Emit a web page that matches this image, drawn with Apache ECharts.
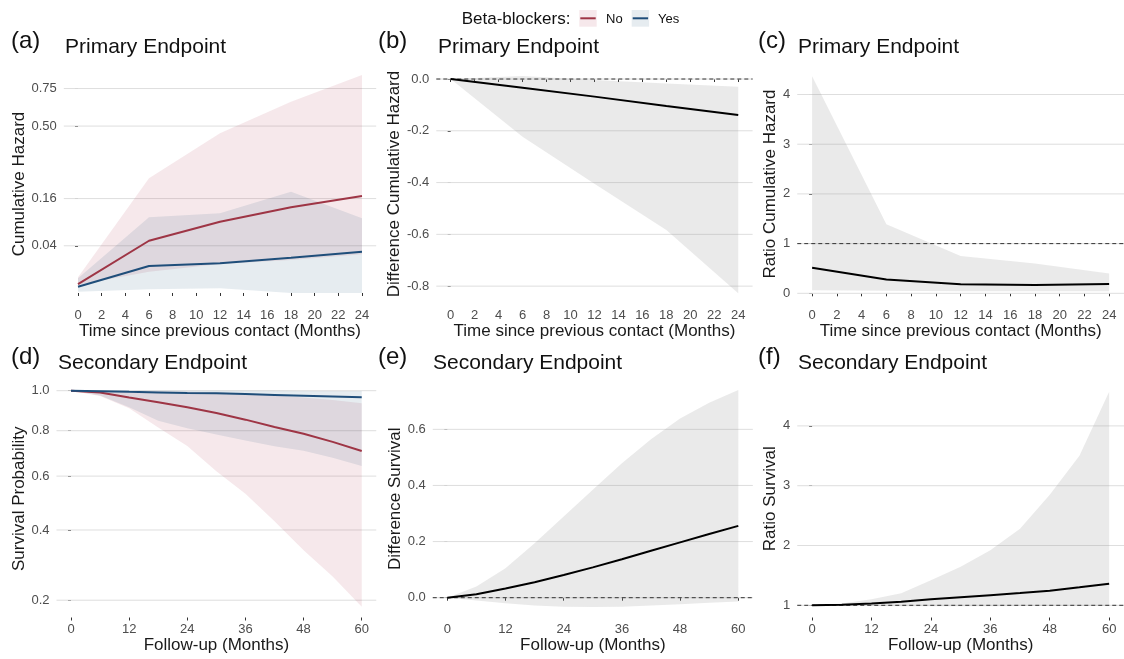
<!DOCTYPE html>
<html><head><meta charset="utf-8">
<script src="https://cdn.jsdelivr.net/npm/echarts@6/dist/echarts.min.js"></script>
<style>html,body{margin:0;padding:0;background:#fff}#c{width:1124px;height:659px}</style>
</head><body><div id="c"></div>
<script>
// ---------- DATA ----------
const tPrimary = [0, 6, 12, 18, 24];
const aNoEst = [0.0014, 0.049, 0.091, 0.132, 0.169];
const aNoLo  = [0.0012, 0.0081, 0.015, 0.0196, 0.027];
const aNoHi  = [0.0044, 0.236, 0.458, 0.657, 0.853];
const aYesEst = [0.0007, 0.013, 0.0158, 0.0224, 0.0306];
const aYesLo  = [0.00003, 0.00025, 0.0004, 0, 0];
const aYesHi  = [0.0039, 0.103, 0.114, 0.184, 0.100];

const bEst = [0, -0.034, -0.068, -0.104, -0.139];
const bLo  = [0, -0.223, -0.405, -0.583, -0.827];
const bHi  = [0, 0.012, -0.004, -0.017, -0.03];

const cEst = [0.515, 0.28, 0.18, 0.167, 0.187];
const cLo  = [0.06, 0.05, 0.04, 0.04, 0.04];
const cHi  = [4.37, 1.39, 0.75, 0.60, 0.40];

const tSecondary = [0, 6, 12, 18, 24, 30, 36, 42, 48, 54, 60];
const dNoEst  = [1, 0.99, 0.964, 0.94, 0.914, 0.886, 0.853, 0.818, 0.786, 0.748, 0.707];
const dNoLo   = [1, 0.972, 0.91, 0.815, 0.73, 0.62, 0.53, 0.43, 0.335, 0.26, 0.185];
const dNoHi   = [1, 1, 0.999, 0.997, 0.995, 0.99, 0.985, 0.976, 0.965, 0.952, 0.935];
const dYesEst = [1, 0.9975, 0.994, 0.991, 0.988, 0.986, 0.982, 0.978, 0.974, 0.970, 0.9655];
const dYesLo  = [1, 0.975, 0.915, 0.848, 0.812, 0.782, 0.754, 0.728, 0.708, 0.677, 0.642];
const dYesHi  = [1, 1, 1, 1, 1, 1, 1, 1, 0.999, 0.999, 0.998];

const eEst = [0, 0.012, 0.033, 0.055, 0.081, 0.108, 0.137, 0.167, 0.197, 0.227, 0.256];
const eLo  = [0, -0.01, -0.02, -0.028, -0.032, -0.033, -0.032, -0.028, -0.023, -0.018, -0.014];
const eHi  = [0, 0.04, 0.105, 0.194, 0.289, 0.385, 0.479, 0.565, 0.639, 0.695, 0.74];

const fEst = [1, 1.01, 1.03, 1.06, 1.10, 1.135, 1.17, 1.205, 1.245, 1.30, 1.36];
const fLo  = [1, 0.995, 0.99, 0.985, 0.985, 0.985, 0.985, 0.99, 0.99, 0.99, 0.99];
const fHi  = [1, 1.03, 1.10, 1.20, 1.42, 1.645, 1.92, 2.28, 2.85, 3.50, 4.57];

const primaryXTicks = [0, 2, 4, 6, 8, 10, 12, 14, 16, 18, 20, 22, 24];
const secondaryXTicks = [0, 12, 24, 36, 48, 60];
const aYTicks = [0.04, 0.16, 0.50, 0.75];
const aYLabels = ['0.04', '0.16', '0.50', '0.75'];
const bYTicks = [-0.8, -0.6, -0.4, -0.2, 0.0];
const bYLabels = ['-0.8', '-0.6', '-0.4', '-0.2', '0.0'];
const cYTicks = [0, 1, 2, 3, 4];
const cYLabels = ['0', '1', '2', '3', '4'];
const dYTicks = [0.2, 0.4, 0.6, 0.8, 1.0];
const dYLabels = ['0.2', '0.4', '0.6', '0.8', '1.0'];
const eYTicks = [0.0, 0.2, 0.4, 0.6];
const eYLabels = ['0.0', '0.2', '0.4', '0.6'];
const fYTicks = [1, 2, 3, 4];
const fYLabels = ['1', '2', '3', '4'];

const tags = ['(a)', '(b)', '(c)', '(d)', '(e)', '(f)'];
const titles = ['Primary Endpoint', 'Primary Endpoint', 'Primary Endpoint',
                'Secondary Endpoint', 'Secondary Endpoint', 'Secondary Endpoint'];
const yNames = ['Cumulative Hazard', 'Difference Cumulative Hazard', 'Ratio Cumulative Hazard',
                'Survival Probability', 'Difference Survival', 'Ratio Survival'];
const xNames = ['Time since previous contact (Months)', 'Time since previous contact (Months)',
                'Time since previous contact (Months)', 'Follow-up (Months)', 'Follow-up (Months)',
                'Follow-up (Months)'];
const legendTitle = 'Beta-blockers:';
const legendLabels = ['No', 'Yes'];

// ---------- STYLE ----------
const FONT = '"Liberation Sans", Arial, sans-serif';
const RED = '#9E3545', BLUE = '#1F4E7A';
const RED_FILL = 'rgba(170,50,70,0.11)', BLUE_FILL = 'rgba(31,78,122,0.11)';
const GREY_FILL = 'rgba(150,150,150,0.2)';
const GRID_COLOR = '#DEDEDE';
const sq = v => Math.sqrt(Math.max(v, 0));
const id = v => v;

const layout = [
  {left: 63.8,   top: 64,  width: 312.4, height: 240,   xr: [-1.2, 25.2], yr: [-0.0466, 0.970], gap: 35},
  {left: 436.3,  top: 64,  width: 316.3, height: 240,   xr: [-1.2, 25.2], yr: [-0.869, 0.058], gap: 29},
  {left: 797.25, top: 64,  width: 331.1, height: 240,   xr: [-1.2, 25.2], yr: [-0.215, 4.614], gap: 11},
  {left: 56.47,  top: 380, width: 319.8, height: 237.5, xr: [-3, 63],     yr: [0.4016, 1.0282], gap: 25},
  {left: 432.75, top: 380, width: 320.1, height: 237.5, xr: [-3, 63],     yr: [-0.0706, 0.7758], gap: 26.5},
  {left: 797.25, top: 380, width: 331.1, height: 237.5, xr: [-3, 63],     yr: [0.796, 4.768], gap: 11}
];
const yTickSets = [[aYTicks, aYLabels, sq], [bYTicks, bYLabels, id], [cYTicks, cYLabels, id],
                   [dYTicks, dYLabels, sq], [eYTicks, eYLabels, id], [fYTicks, fYLabels, id]];
const tagPos = [[11, 65], [378, 438], [758, 798], [11, 58], [378, 433], [758, 798]];

const grids = [], xAxes = [], yAxes = [], series = [], graphics = [];

layout.forEach((L, i) => {
  grids.push({left: L.left, top: L.top, width: L.width, height: L.height, containLabel: false});
  const xt = i < 3 ? primaryXTicks : secondaryXTicks;
  xAxes.push({
    type: 'value', gridIndex: i, min: L.xr[0], max: L.xr[1],
    name: xNames[i], nameLocation: 'middle', nameGap: 19,
    nameTextStyle: {fontSize: 17, color: '#1a1a1a', fontFamily: FONT},
    axisLine: {show: false},
    axisTick: {show: true, customValues: xt, length: 3, lineStyle: {color: '#333', width: 1}},
    axisLabel: {customValues: xt, color: '#4d4d4d', fontSize: 13, fontFamily: FONT, margin: 5,
                formatter: v => String(Math.round(v))},
    splitLine: {show: false}
  });
  const [ticks, labels, tf] = yTickSets[i];
  const pos = ticks.map(tf);
  yAxes.push({
    type: 'value', gridIndex: i, min: L.yr[0], max: L.yr[1],
    name: yNames[i], nameLocation: 'middle', nameGap: L.gap,
    nameTextStyle: {fontSize: 17, color: '#1a1a1a', fontFamily: FONT},
    axisLine: {show: false},
    axisTick: {show: true, customValues: pos, length: 3, lineStyle: {color: '#333', width: 1}},
    axisLabel: {customValues: pos, color: '#4d4d4d', fontSize: 13, fontFamily: FONT, margin: 7,
      formatter: v => {
        let best = 0;
        pos.forEach((p, k) => { if (Math.abs(p - v) < Math.abs(pos[best] - v)) best = k; });
        return labels[best];
      }},
    splitLine: {show: false}
  });
  // horizontal gridlines
  series.push(hLines(i, pos, L.xr[0], {stroke: GRID_COLOR, lineWidth: 1}, 1));
  // tags & titles
  const rowOff = i < 3 ? 0 : 316;
  graphics.push({type: 'text', x: tagPos[i][0], y: 41.5 + rowOff, silent: true,
    style: {text: tags[i], font: '24px ' + FONT, fill: '#111', verticalAlign: 'middle'}});
  graphics.push({type: 'text', x: tagPos[i][1], y: 47.3 + rowOff, silent: true,
    style: {text: titles[i], font: '21px ' + FONT, fill: '#111', verticalAlign: 'middle'}});
});

function hLines(gi, vals, x0, style, z) {
  return {
    type: 'custom', xAxisIndex: gi, yAxisIndex: gi, z: z, silent: true,
    data: [[x0, vals[0]]],
    renderItem(params, api) {
      const cs = params.coordSys;
      return {type: 'group', children: vals.map(v => {
        const y = api.coord([x0, v])[1];
        return {type: 'line', shape: {x1: cs.x, y1: y, x2: cs.x + cs.width, y2: y}, style: style};
      })};
    }
  };
}
function ribbon(gi, xs, lo, hi, fill, tf) {
  const data = xs.map((x, k) => [x, tf(lo[k]), tf(hi[k])]);
  return {
    type: 'custom', xAxisIndex: gi, yAxisIndex: gi, z: 2, silent: true, clip: true,
    data: data, encode: {x: 0, y: [1, 2]},
    renderItem(params, api) {
      if (params.dataIndex !== 0) return null;
      const up = data.map(d => api.coord([d[0], d[2]]));
      const dn = data.map(d => api.coord([d[0], d[1]])).reverse();
      return {type: 'polygon', shape: {points: up.concat(dn)}, style: {fill: fill}};
    }
  };
}
function line(gi, xs, vals, color, tf) {
  return {
    type: 'line', xAxisIndex: gi, yAxisIndex: gi, z: 4, silent: true,
    data: xs.map((x, k) => [x, tf(vals[k])]), symbol: 'none', showSymbol: false,
    lineStyle: {color: color, width: 2}, itemStyle: {color: color}
  };
}
const dashStyle = {stroke: '#333', lineWidth: 1, lineDash: [4, 3]};

// (a)
series.push(ribbon(0, tPrimary, aNoLo, aNoHi, RED_FILL, sq));
series.push(ribbon(0, tPrimary, aYesLo, aYesHi, BLUE_FILL, sq));
series.push(line(0, tPrimary, aNoEst, RED, sq));
series.push(line(0, tPrimary, aYesEst, BLUE, sq));
// (b)
series.push(ribbon(1, tPrimary, bLo, bHi, GREY_FILL, id));
series.push(hLines(1, [0], -1.2, dashStyle, 3));
series.push(line(1, tPrimary, bEst, '#000', id));
// (c)
series.push(ribbon(2, tPrimary, cLo, cHi, GREY_FILL, id));
series.push(hLines(2, [1], -1.2, dashStyle, 3));
series.push(line(2, tPrimary, cEst, '#000', id));
// (d)
series.push(ribbon(3, tSecondary, dNoLo, dNoHi, RED_FILL, sq));
series.push(ribbon(3, tSecondary, dYesLo, dYesHi, BLUE_FILL, sq));
series.push(line(3, tSecondary, dNoEst, RED, sq));
series.push(line(3, tSecondary, dYesEst, BLUE, sq));
// (e)
series.push(ribbon(4, tSecondary, eLo, eHi, GREY_FILL, id));
series.push(hLines(4, [0], -3, dashStyle, 3));
series.push(line(4, tSecondary, eEst, '#000', id));
// (f)
series.push(ribbon(5, tSecondary, fLo, fHi, GREY_FILL, id));
series.push(hLines(5, [1], -3, dashStyle, 3));
series.push(line(5, tSecondary, fEst, '#000', id));

// legend (drawn)
graphics.push({type: 'text', x: 461.7, y: 19.6, silent: true,
  style: {text: legendTitle, font: '17px ' + FONT, fill: '#111', verticalAlign: 'middle'}});
const keyX = [579.3, 631.7], labX = [606, 658], keyCol = [RED, BLUE], keyFill = [RED_FILL, BLUE_FILL];
legendLabels.forEach((lab, k) => {
  graphics.push({type: 'rect', silent: true, shape: {x: keyX[k], y: 10, width: 17.4, height: 16.7},
    style: {fill: keyFill[k]}});
  graphics.push({type: 'line', silent: true,
    shape: {x1: keyX[k] + 1, y1: 18.3, x2: keyX[k] + 16.4, y2: 18.3},
    style: {stroke: keyCol[k], lineWidth: 2}});
  graphics.push({type: 'text', x: labX[k], y: 19.3, silent: true,
    style: {text: lab, font: '13px ' + FONT, fill: '#111', verticalAlign: 'middle'}});
});

const chart = echarts.init(document.getElementById('c'), null, {renderer: 'canvas'});
chart.setOption({
  animation: false,
  backgroundColor: '#fff',
  grid: grids, xAxis: xAxes, yAxis: yAxes, series: series, graphic: graphics
});
</script>
</body></html>
